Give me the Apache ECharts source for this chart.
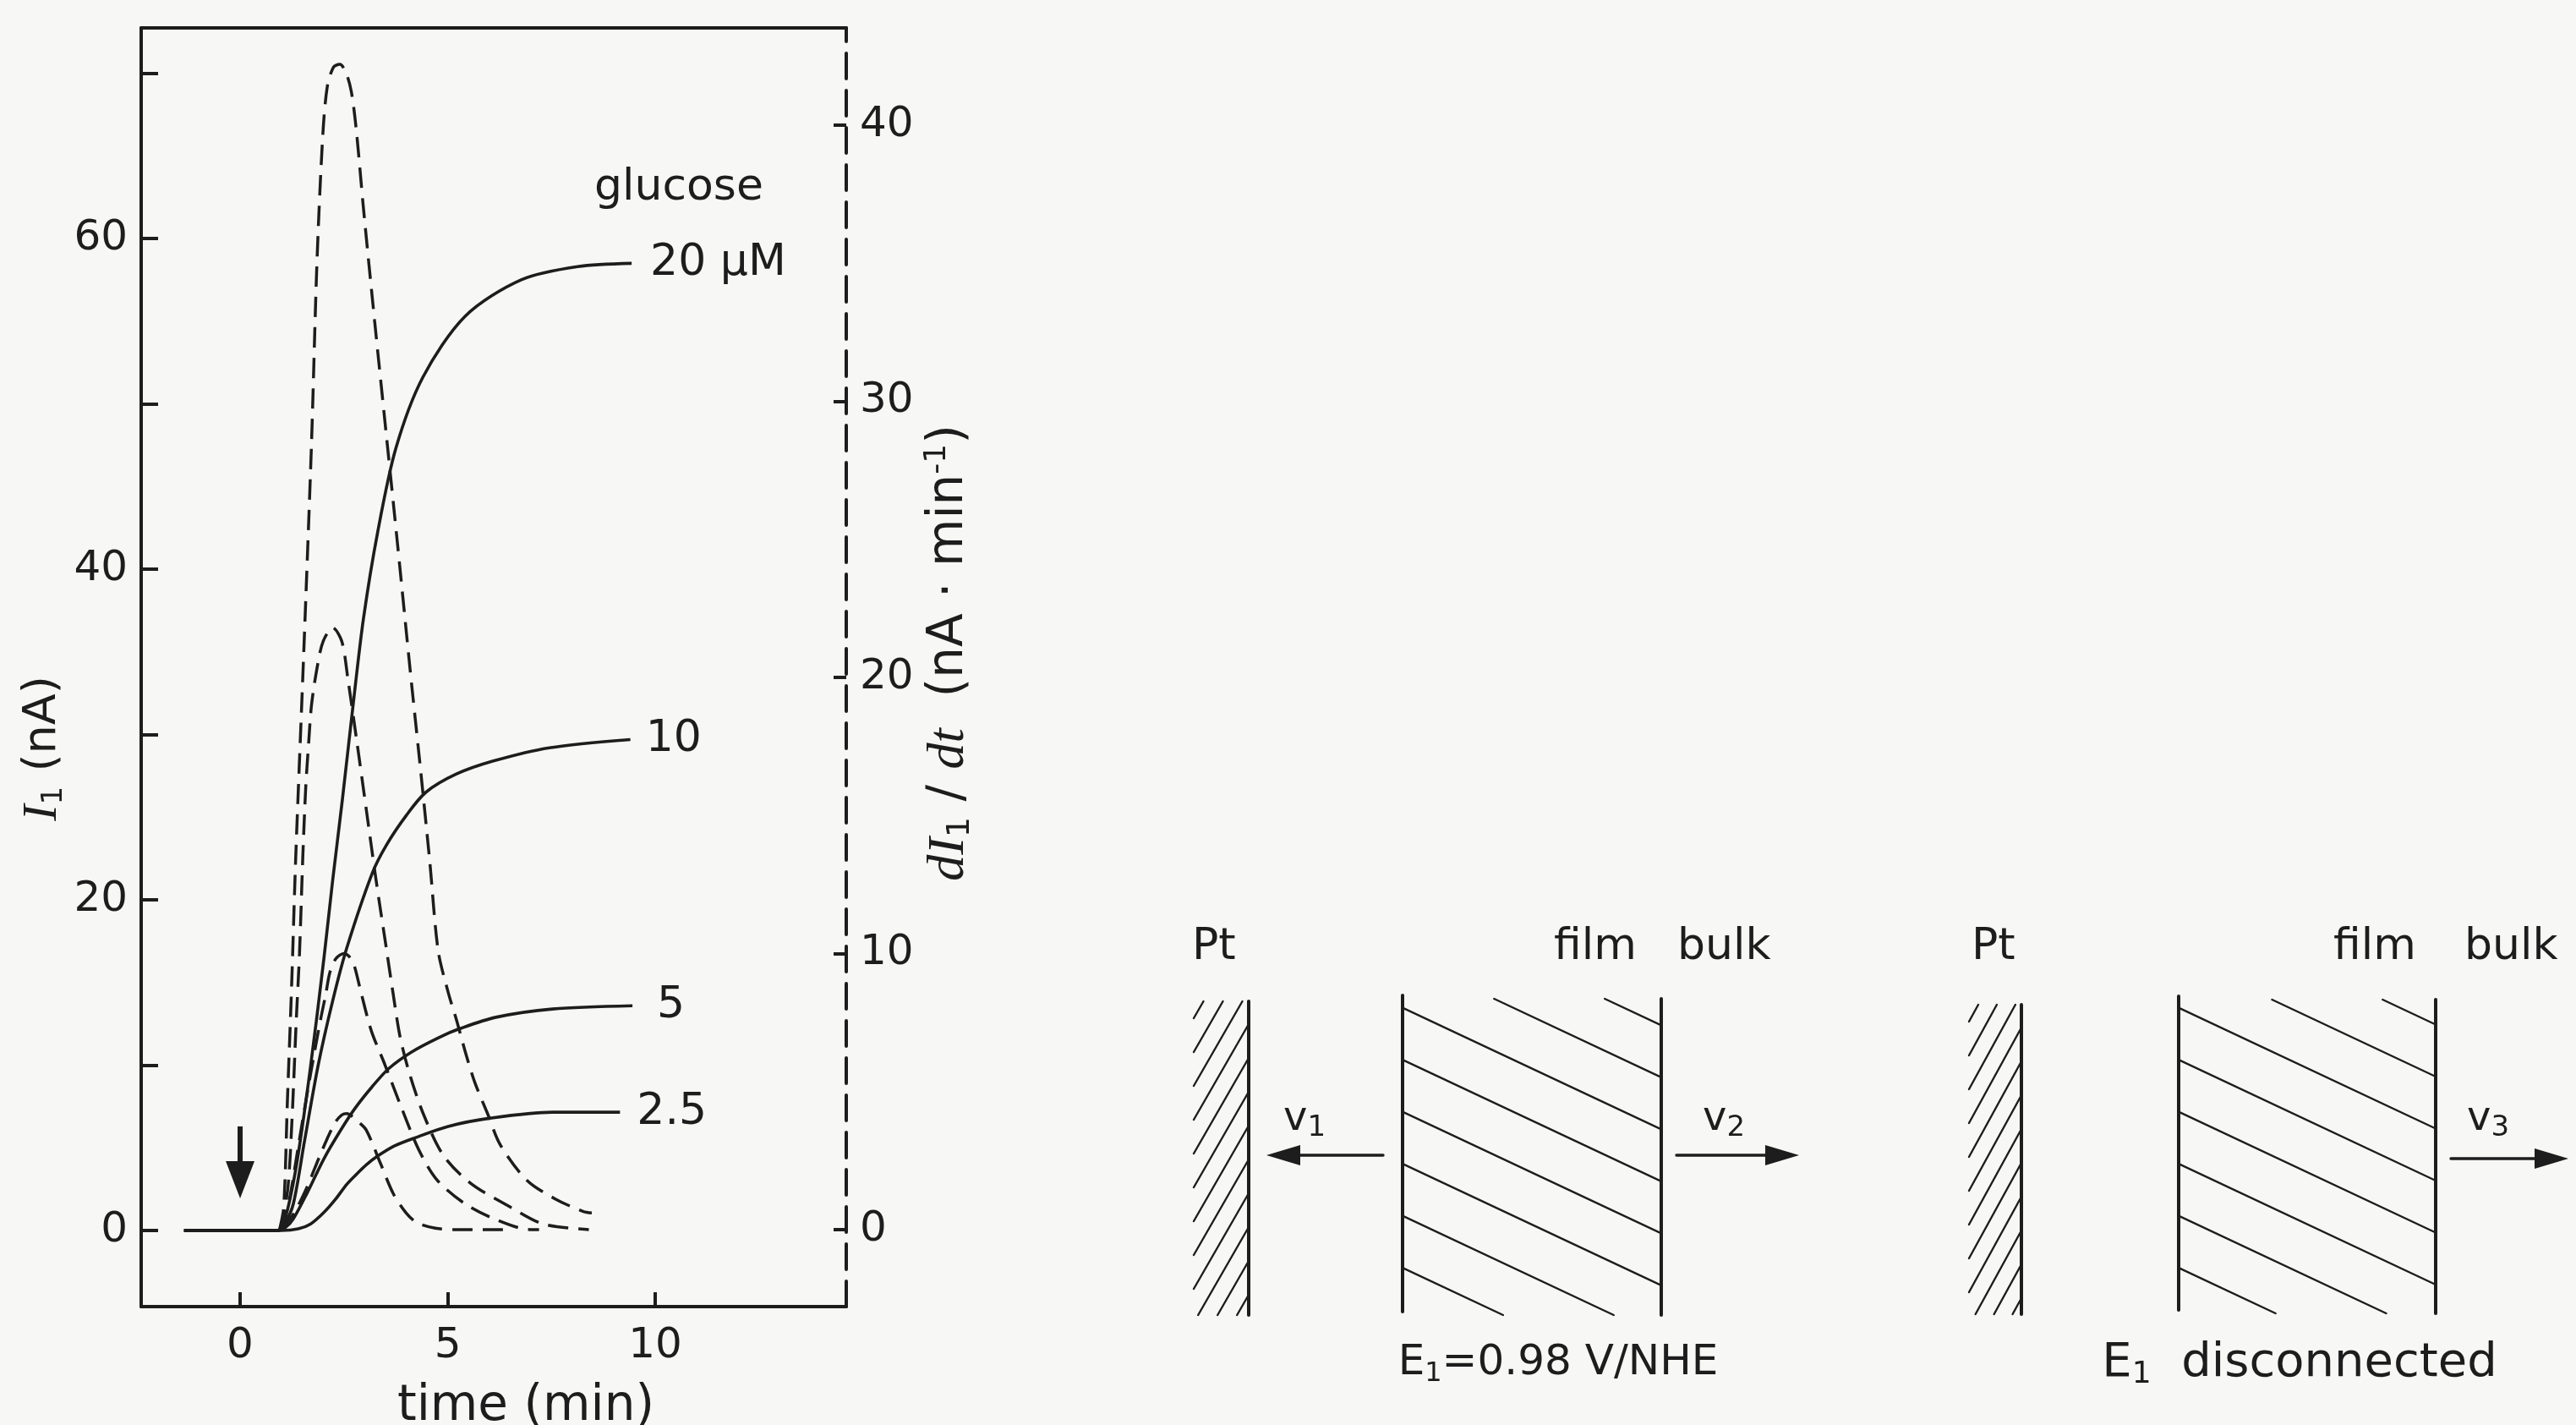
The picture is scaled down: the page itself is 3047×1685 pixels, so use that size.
<!DOCTYPE html>
<html><head><meta charset="utf-8">
<script src="https://cdn.jsdelivr.net/npm/echarts@6/dist/echarts.min.js"></script>
<style>html,body{margin:0;padding:0;background:#f7f7f5;}#c{width:3047px;height:1685px;}</style>
</head><body><div id="c"></div>
<script>
// ---------- data ----------
// solid curves: I1 (nA) vs time (min), left axis
const t20 = [-1.35, 0.9, 1.07, 1.34, 1.68, 2.02, 2.23, 2.46, 2.74, 2.97, 3.31, 3.75, 4.4, 5.42, 6.77, 8.13, 9.43];
const i20 = [0, 0, 0.6, 3.7, 9.6, 16.5, 21.2, 26.0, 32.2, 37.0, 42.2, 47.3, 51.6, 55.3, 57.5, 58.3, 58.5];
const t10 = [-1.35, 0.9, 1.07, 1.28, 1.55, 1.88, 2.23, 2.57, 3.18, 3.52, 4.0, 4.47, 5.2, 6.1, 7.45, 9.4];
const i10 = [0, 0, 0.4, 1.6, 5.4, 10.0, 13.9, 17.1, 21.6, 23.3, 25.1, 26.5, 27.6, 28.4, 29.2, 29.7];
const t5 = [-1.35, 0.9, 1.1, 1.28, 1.62, 2.02, 2.43, 2.77, 3.18, 3.58, 4.13, 4.81, 5.28, 6.16, 7.52, 9.45];
const i5 = [0, 0, 0.2, 0.7, 2.3, 4.35, 6.1, 7.4, 8.7, 9.8, 10.8, 11.7, 12.2, 12.9, 13.4, 13.6];
const t25 = [-1.35, 1.0, 1.4, 1.7, 2.02, 2.3, 2.57, 2.8, 3.05, 3.31, 3.7, 4.2, 5.01, 6.03, 7.52, 9.15];
const i25 = [0, 0, 0.1, 0.4, 1.1, 1.9, 2.8, 3.4, 4.0, 4.5, 5.1, 5.6, 6.3, 6.8, 7.16, 7.16];
// dashed curves: dI1/dt (nA/min) vs time (min), right axis
const dt20 = [0.95, 1.05, 1.14, 1.24, 1.34, 1.53, 1.72, 1.85, 1.99, 2.1, 2.25, 2.4, 2.55, 2.68, 2.8, 2.97, 3.24, 3.52, 3.8, 4.1, 4.35, 4.57, 4.77, 5.01, 5.21, 5.45, 5.66, 5.96, 6.27, 6.91, 7.59, 8.27, 8.47];
const d20 = [0, 0.8, 4.7, 8.8, 13.5, 20.8, 28.5, 35.0, 39.6, 41.4, 42.1, 42.2, 41.9, 41.2, 39.8, 37.0, 32.9, 28.8, 24.7, 20.2, 16.6, 13.3, 10.1, 8.6, 7.6, 6.3, 5.3, 4.2, 3.06, 1.78, 1.11, 0.65, 0.6];
const dt10 = [0.98, 1.15, 1.25, 1.35, 1.43, 1.51, 1.58, 1.65, 1.72, 1.86, 2.0, 2.23, 2.45, 2.6, 2.8, 3.04, 3.28, 3.52, 3.69, 3.85, 4.07, 4.41, 4.89, 5.55, 6.49, 7.3, 8.4];
const d10 = [0, 1.5, 4, 7.5, 10, 13.5, 16, 17.6, 19.0, 20.4, 21.3, 21.8, 21.3, 19.9, 17.8, 15.2, 12.6, 10.2, 8.5, 7.0, 5.7, 4.2, 2.7, 1.68, 0.83, 0.2, 0];
const dt5 = [1.0, 1.2, 1.4, 1.6, 1.8, 1.95, 2.06, 2.16, 2.3, 2.5, 2.62, 2.74, 2.91, 3.16, 3.48, 3.89, 4.3, 4.74, 5.42, 6.18, 6.99, 7.2];
const d5 = [0, 1.2, 3.0, 4.8, 6.5, 7.7, 8.5, 9.3, 9.8, 10.0, 9.9, 9.6, 8.6, 7.2, 6.0, 4.4, 2.9, 1.8, 0.93, 0.35, 0, 0];
const dt25 = [1.0, 1.3, 1.6, 1.9, 2.1, 2.3, 2.45, 2.57, 2.7, 2.85, 3.04, 3.38, 3.69, 4.0, 4.26, 4.7, 5.16, 6.33];
const d25 = [0, 0.6, 1.5, 2.6, 3.3, 3.9, 4.15, 4.2, 4.1, 3.9, 3.6, 2.4, 1.3, 0.6, 0.25, 0.05, 0, 0];
const curveNames = ['20 μM', '10', '5', '2.5'];
// injection arrow at t = 0 (from, to in nA)
const arrowTime = 0;
const arrowFrom = 6.3, arrowTo = 3.07;
// tick labels
const xTickLabels = [0, 5, 10];
const leftTicks = [0, 10, 20, 30, 40, 50, 60, 70];
const leftTickLabels = [0, 20, 40, 60];
const rightTicks = [0, 10, 20, 30, 40];

// ---------- styling ----------
const INK = '#1d1d1d';
const FONT = 'DejaVu Sans';
const pairs = (ts, vs) => ts.map((t, k) => [t, vs[k]]);

function solid(name, ts, vs, dist, extra) {
  return Object.assign({
    name, type: 'line', xAxisIndex: 0, yAxisIndex: 0, data: pairs(ts, vs),
    showSymbol: false, symbol: 'none', smooth: 0.3, silent: true,
    lineStyle: { color: INK, width: 3.6 },
    endLabel: { show: true, formatter: name, distance: dist, fontSize: 52, fontFamily: FONT, color: INK }
  }, extra || {});
}
function dashed(name, ts, vs) {
  return {
    name: name + ' dI/dt', type: 'line', xAxisIndex: 0, yAxisIndex: 1, data: pairs(ts, vs),
    showSymbol: false, symbol: 'none', smooth: 0.3, silent: true,
    lineStyle: { color: INK, width: 3.5, type: [24, 12] }
  };
}

const series = [
  solid(curveNames[0], t20, i20, 22),
  solid(curveNames[1], t10, i10, 18),
  solid(curveNames[2], t5, i5, 29),
  solid(curveNames[3], t25, i25, 20, {
    markLine: {
      silent: true, animation: false, symbol: ['none', 'triangle'], symbolSize: [34, 44],
      lineStyle: { color: INK, width: 6, type: 'solid' }, label: { show: false },
      data: [[{ coord: [arrowTime, arrowFrom] }, { coord: [arrowTime, arrowTo] }]]
    }
  }),
  dashed(curveNames[0], dt20, d20),
  dashed(curveNames[1], dt10, d10),
  dashed(curveNames[2], dt5, d5),
  dashed(curveNames[3], dt25, d25)
];

// ---------- diagram helpers (schematic drawing on the right) ----------
const G = [];
function seg(x1, y1, x2, y2, w) { G.push({ type: 'line', silent: true, shape: { x1, y1, x2, y2 }, style: { stroke: INK, lineWidth: w, lineCap: 'round' } }); }
function txt(x, y, text, size, align, rich) {
  G.push({ type: 'text', silent: true, x, y, style: { text, fill: INK, fontFamily: FONT, fontSize: size, align: align || 'left', verticalAlign: 'middle', rich: rich || {} } });
}
function arrow(x1, x2, y) {
  const dir = x2 > x1 ? 1 : -1;
  seg(x1, y, x2 - dir * 30, y, 3.4);
  G.push({ type: 'polygon', silent: true, shape: { points: [[x2, y], [x2 - dir * 40, y - 12], [x2 - dir * 40, y + 12]] }, style: { fill: INK } });
}
function ptHatch(xLine, xLeft, top, bottom) {
  const dx = xLine - xLeft, dy = 113;
  for (let yR = top - dy + 20; yR < bottom; yR += 40) {
    const s0 = Math.max(0, (top - yR) / dy), s1 = Math.min(1, (bottom - yR) / dy);
    if (s1 <= s0) continue;
    seg(xLine - dx * s0, yR + dy * s0, xLine - dx * s1, yR + dy * s1, 2.4);
  }
  seg(xLine, top, xLine, bottom, 4);
}
function filmHatch(xL, xR, top, bottom, y0) {
  const k = 0.47;
  for (let yL = y0; yL < bottom; yL += 61.5) {
    let xa = xL, ya = yL;
    if (ya < top) { xa = xL + (top - yL) / k; ya = top; }
    let xb = xR, yb = yL + k * (xR - xL);
    if (yb > bottom) { xb = xL + (bottom - yL) / k; yb = bottom; }
    if (xa < xb) seg(xa, ya, xb, yb, 2.4);
  }
  seg(xL, top - 4, xL, bottom - 4, 4);
  seg(xR, top, xR, bottom, 4);
}
const subRich = {
  n: { fontSize: 50, fontFamily: FONT, color: INK, lineHeight: 58 },
  s: { fontSize: 32, fontFamily: FONT, color: INK, lineHeight: 22, verticalAlign: 'bottom' },
  m: { fontSize: 56, fontFamily: FONT, color: INK, lineHeight: 64 },
  ms: { fontSize: 36, fontFamily: FONT, color: INK, lineHeight: 26, verticalAlign: 'bottom' },
  v: { fontSize: 48, fontFamily: FONT, color: INK, lineHeight: 54 },
  vs: { fontSize: 34, fontFamily: FONT, color: INK, lineHeight: 20, verticalAlign: 'bottom' }
};
// diagram 1
txt(1410, 1120, 'Pt', 52);
txt(1838, 1120, 'film', 52);
txt(1984, 1120, 'bulk', 52);
ptHatch(1477, 1412, 1184, 1555);
filmHatch(1659, 1965, 1181, 1555, 1068.6);
arrow(1636, 1498, 1366);
arrow(1983, 2128, 1366);
txt(1543, 1324, '{v|v}{vs|1}', 48, 'center', subRich);
txt(2039, 1324, '{v|v}{vs|2}', 48, 'center', subRich);
txt(1843, 1612, '{n|E}{s|1}{n|=0.98 V/NHE}', 50, 'center', subRich);
// diagram 2
txt(2332, 1120, 'Pt', 52);
txt(2760, 1120, 'film', 52);
txt(2915, 1120, 'bulk', 52);
ptHatch(2391, 2329, 1188, 1554);
filmHatch(2577, 2881, 1182, 1553, 1068.6);
arrow(2899, 3038, 1370);
txt(2943, 1324, '{v|v}{vs|3}', 48, 'center', subRich);
txt(2720, 1612, '{m|E}{ms|1}{m|  disconnected}', 56, 'center', subRich);
// legend caption above the curve labels
txt(803, 222, 'glucose', 52, 'center');

const axisLineStyle = { color: INK, width: 4 };
const option = {
  backgroundColor: '#f7f7f5',
  animation: false,
  grid: { left: 167, top: 33, width: 834, height: 1512, containLabel: false, outerBoundsMode: 'none' },
  xAxis: [{
    type: 'value', min: -2.383, max: 14.6, position: 'bottom',
    axisLine: { show: true, onZero: false, lineStyle: axisLineStyle },
    axisTick: { show: true, inside: true, length: 17, customValues: xTickLabels, lineStyle: { color: INK, width: 4 } },
    axisLabel: { show: true, customValues: xTickLabels, margin: 22, fontSize: 50, fontFamily: FONT, color: INK },
    splitLine: { show: false },
    name: 'time (min)', nameLocation: 'middle', nameGap: 90,
    nameTextStyle: { fontSize: 58, fontFamily: FONT, color: INK, padding: [0, 0, 0, 76] }
  }, {
    type: 'value', min: -2.383, max: 14.6, position: 'top',
    axisLine: { show: true, onZero: false, lineStyle: axisLineStyle },
    axisTick: { show: false }, axisLabel: { show: false }, splitLine: { show: false }
  }],
  yAxis: [{
    type: 'value', min: -4.6, max: 72.74, position: 'left',
    axisLine: { show: true, onZero: false, lineStyle: axisLineStyle },
    axisTick: { show: true, inside: true, length: 20, customValues: leftTicks, lineStyle: { color: INK, width: 4 } },
    axisLabel: { show: true, customValues: leftTickLabels, margin: 16, fontSize: 50, fontFamily: FONT, color: INK },
    splitLine: { show: false },
    name: '{i|I}{s|1}{n| (nA)}', nameLocation: 'middle', nameGap: 86,
    nameTextStyle: {
      color: INK, fontSize: 54, fontFamily: FONT, padding: [0, 192, 0, 0],
      rich: {
        i: { fontSize: 58, fontFamily: 'Liberation Serif', fontStyle: 'italic', color: INK, lineHeight: 60 },
        s: { fontSize: 34, fontFamily: FONT, color: INK, lineHeight: 24, verticalAlign: 'bottom' },
        n: { fontSize: 54, fontFamily: FONT, color: INK, lineHeight: 60 }
      }
    }
  }, {
    type: 'value', min: -2.79, max: 43.52, position: 'right',
    axisLine: { show: true, onZero: false, lineStyle: { color: INK, width: 4, type: [30, 14] } },
    axisTick: { show: true, inside: true, length: 15, customValues: rightTicks, lineStyle: { color: INK, width: 4 } },
    axisLabel: { show: true, customValues: rightTicks, margin: 16, fontSize: 50, fontFamily: FONT, color: INK },
    splitLine: { show: false },
    name: '{i|dI}{s|1}{n| / }{i|dt}{n|  (nA · min}{p|-1}{n|)}', nameLocation: 'middle', nameGap: 90,
    nameTextStyle: {
      color: INK, fontSize: 58, fontFamily: FONT, padding: [0, 0, 0, 34],
      rich: {
        i: { fontSize: 62, fontFamily: 'Liberation Serif', fontStyle: 'italic', color: INK, lineHeight: 64 },
        s: { fontSize: 38, fontFamily: FONT, color: INK, lineHeight: 26, verticalAlign: 'bottom' },
        p: { fontSize: 36, fontFamily: FONT, color: INK, lineHeight: 40, verticalAlign: 'top' },
        n: { fontSize: 58, fontFamily: FONT, color: INK, lineHeight: 64 }
      }
    }
  }],
  series,
  graphic: { elements: G }
};
const chart = echarts.init(document.getElementById('c'), null, { renderer: 'canvas' });
chart.setOption(option);
</script>
</body></html>
